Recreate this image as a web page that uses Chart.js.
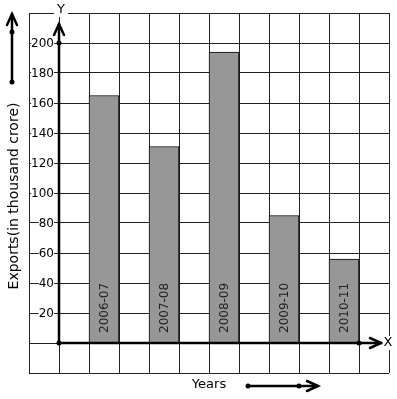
<!DOCTYPE html>
<html>
<head>
<meta charset="utf-8">
<script src="https://cdn.jsdelivr.net/npm/chart.js@4/dist/chart.umd.min.js"></script>
<style>
  html, body { margin: 0; padding: 0; background: #fff; }
  #wrap { width: 397px; height: 399px; }
</style>
</head>
<body>
<div id="wrap"><canvas id="exportChart"></canvas></div>
<script>
// data
let years = ["2006-07", "2007-08", "2008-09", "2009-10", "2010-11"];
let exportsVal = [165, 131, 194, 85, 56];
let yTicksShown = [20, 40, 60, 80, 100, 120, 140, 160, 180, 200];

let font = "'DejaVu Sans', sans-serif";

// each year sits in every second grid column, starting at 1.5
let points = years.map((yr, i) => ({ x: 1.5 + 2 * i, y: exportsVal[i] }));

function arrowHead(ctx, tx, ty, dir) {
  // dir: 'up' or 'right', open chevron
  ctx.beginPath();
  if (dir === "up") {
    ctx.moveTo(tx - 5, ty + 11);
    ctx.lineTo(tx, ty);
    ctx.lineTo(tx + 5, ty + 11);
  } else {
    ctx.moveTo(tx - 11, ty - 5);
    ctx.lineTo(tx, ty);
    ctx.lineTo(tx - 11, ty + 5);
  }
  ctx.stroke();
}

function dot(ctx, x, y) {
  ctx.beginPath();
  ctx.arc(x, y, 2.5, 0, Math.PI * 2);
  ctx.fill();
}

function labelWithBg(ctx, text, x, y, pad) {
  let w = ctx.measureText(text).width;
  ctx.fillStyle = "#fff";
  ctx.fillRect(x - w / 2 - pad, y - 7, w + pad * 2, 14);
  ctx.fillStyle = "#000";
  ctx.fillText(text, x, y);
}

const decorations = {
  id: "decorations",
  afterDatasetsDraw(chart) {
    let ctx = chart.ctx;
    let meta = chart.getDatasetMeta(0);
    let base = chart.scales.y.getPixelForValue(0);
    ctx.save();
    ctx.font = "12px " + font;
    ctx.fillStyle = "#222";
    ctx.textAlign = "left";
    ctx.textBaseline = "middle";
    meta.data.forEach((bar, i) => {
      ctx.save();
      ctx.translate(bar.x + 1, base - 10);
      ctx.rotate(-Math.PI / 2);
      ctx.fillText(years[i], 0, 0);
      ctx.restore();
    });
    ctx.restore();
  },
  afterDraw(chart) {
    let ctx = chart.ctx;
    let xs = chart.scales.x, ys = chart.scales.y;
    let ox = xs.getPixelForValue(0);
    let oy = ys.getPixelForValue(0);
    let area = chart.chartArea;

    ctx.save();

    // y tick labels, white behind them so the grid line breaks
    ctx.font = "12px " + font;
    ctx.textAlign = "right";
    ctx.textBaseline = "middle";
    ys.ticks.forEach(t => {
      if (!yTicksShown.includes(t.value)) return;
      let ty = ys.getPixelForValue(t.value);
      let txt = String(t.value);
      let w = ctx.measureText(txt).width;
      ctx.fillStyle = "#fff";
      ctx.fillRect(ox - 5 - w, ty - 5, w, 10);
      ctx.fillStyle = "#000";
      ctx.fillText(txt, ox - 5, ty + 1);
    });

    ctx.strokeStyle = "#000";
    ctx.fillStyle = "#000";
    ctx.lineWidth = 2.5;
    ctx.lineCap = "round";

    // Y axis
    ctx.beginPath();
    ctx.moveTo(ox, oy);
    ctx.lineTo(ox, area.top + 11);
    ctx.stroke();
    arrowHead(ctx, ox, area.top + 11, "up");
    dot(ctx, ox, ys.getPixelForValue(200));

    // X axis
    ctx.beginPath();
    ctx.moveTo(ox, oy);
    ctx.lineTo(area.right - 7, oy);
    ctx.stroke();
    arrowHead(ctx, area.right - 8, oy, "right");
    dot(ctx, xs.getPixelForValue(10), oy);
    dot(ctx, ox, oy);

    // side arrow next to the y title
    ctx.beginPath();
    ctx.moveTo(12, 82);
    ctx.lineTo(12, 14);
    ctx.stroke();
    arrowHead(ctx, 12, 14, "up");
    dot(ctx, 12, 32);
    dot(ctx, 12, 82);

    // arrow next to the x title
    ctx.beginPath();
    ctx.moveTo(248, 386);
    ctx.lineTo(318, 386);
    ctx.stroke();
    arrowHead(ctx, 318, 386, "right");
    dot(ctx, 248, 386);
    dot(ctx, 299, 386);

    // axis letters
    ctx.font = "13px " + font;
    ctx.textAlign = "center";
    ctx.textBaseline = "middle";
    labelWithBg(ctx, "Y", ox + 2, area.top - 3, 3);
    labelWithBg(ctx, "X", area.right - 1, oy, 1);

    // titles
    ctx.fillStyle = "#000";
    ctx.fillText("Years", 209, 385);
    ctx.save();
    ctx.font = "14px " + font;
    ctx.translate(14, (area.top + area.bottom) / 2 + 3);
    ctx.rotate(-Math.PI / 2);
    ctx.fillText("Exports(in thousand crore)", 0, 0);
    ctx.restore();

    ctx.restore();
  }
};

let ctx = document.getElementById("exportChart").getContext("2d");

let chart = new Chart(ctx, {
  type: "bar",
  data: {
    datasets: [{
      label: "Exports",
      data: points,
      backgroundColor: "#979797",
      borderColor: "#000",
      borderWidth: 1,
      borderSkipped: "bottom",
      barPercentage: 1,
      categoryPercentage: 1
    }]
  },
  options: {
    responsive: true,
    maintainAspectRatio: false,
    animation: false,
    layout: { padding: { left: 29, right: 8, top: 13, bottom: 26 } },
    plugins: { legend: { display: false }, tooltip: { enabled: false } },
    scales: {
      x: {
        type: "linear",
        position: { y: 0 },
        offset: false,
        min: -1,
        max: 11,
        ticks: { stepSize: 1, display: false },
        grid: { color: "#222", lineWidth: 1, drawTicks: false, offset: false },
        border: { display: false }
      },
      y: {
        type: "linear",
        position: { x: 0 },
        min: -20,
        max: 220,
        ticks: { stepSize: 20, display: false },
        grid: { color: "#222", lineWidth: 1, drawTicks: false },
        border: { display: false }
      }
    }
  },
  plugins: [decorations]
});
</script>
</body>
</html>
